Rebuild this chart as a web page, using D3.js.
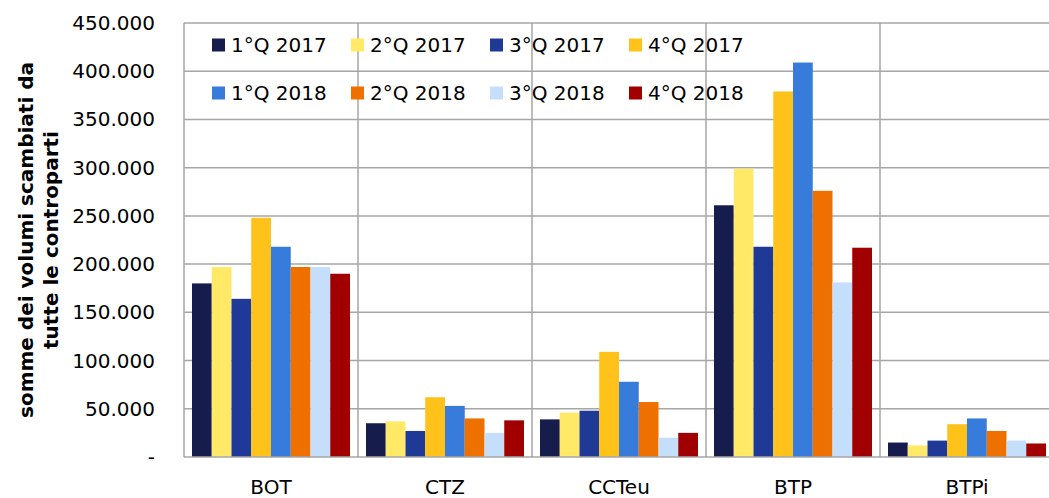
<!DOCTYPE html>
<html>
<head>
<meta charset="utf-8">
<script src="https://cdn.jsdelivr.net/npm/d3@7"></script>
<style>
  body { margin: 0; background: #fff; }
  svg { display: block; font-family: "DejaVu Sans", sans-serif; }
</style>
</head>
<body>
<svg id="chart" width="1049" height="498"></svg>
<script>
// categories and series
var categories = ["BOT", "CTZ", "CCTeu", "BTP", "BTPi"];
var series = ["1°Q 2017", "2°Q 2017", "3°Q 2017", "4°Q 2017",
              "1°Q 2018", "2°Q 2018", "3°Q 2018", "4°Q 2018"];
var colors = ["#161c4b", "#ffe966", "#1f3a96", "#ffc21a",
              "#377bdb", "#ee7100", "#c4defb", "#a00000"];

// values per series, in category order (BOT, CTZ, CCTeu, BTP, BTPi)
var q1_2017 = [180000, 35000, 39000, 261000, 15000];
var q2_2017 = [197000, 37000, 46000, 299000, 12000];
var q3_2017 = [164000, 27000, 48000, 218000, 17000];
var q4_2017 = [248000, 62000, 109000, 379000, 34000];
var q1_2018 = [218000, 53000, 78000, 409000, 40000];
var q2_2018 = [197000, 40000, 57000, 276000, 27000];
var q3_2018 = [197000, 25000, 20000, 181000, 17000];
var q4_2018 = [190000, 38000, 25000, 217000, 14000];
var values = [q1_2017, q2_2017, q3_2017, q4_2017, q1_2018, q2_2018, q3_2018, q4_2018];

var yTicks = d3.range(0, 450001, 50000);

var svg = d3.select("#chart");
// note: "top" is taken by window.top, so plot edges get their own names
var plotL = 184, plotR = 1054, plotT = 23, plotB = 457;
var gridColor = "#a6a6a6";

var x = d3.scaleBand().domain(categories).range([plotL, plotR]);
var xs = d3.scaleBand().domain(series).range([8, x.bandwidth() - 8]);
var y = d3.scaleLinear().domain([0, 450000]).range([plotB, plotT]);

var it = d3.formatLocale({ decimal: ",", thousands: ".", grouping: [3], currency: ["€", ""] });
var fmt = it.format(",.0f");

// horizontal grid
svg.append("g").selectAll("line").data(yTicks.slice(1)).join("line")
  .attr("x1", plotL).attr("x2", plotR)
  .attr("y1", d => y(d)).attr("y2", d => y(d))
  .attr("stroke", gridColor).attr("stroke-width", 1.5);

// category separators
svg.append("g").selectAll("line").data(categories.slice(1)).join("line")
  .attr("x1", d => x(d)).attr("x2", d => x(d))
  .attr("y1", plotT).attr("y2", plotB)
  .attr("stroke", gridColor).attr("stroke-width", 1.5);

// bars
var groups = svg.append("g").selectAll("g").data(series).join("g")
  .attr("fill", (d, i) => colors[i]);
groups.selectAll("rect")
  .data((s, i) => categories.map((c, j) => ({ c: c, s: s, v: values[i][j] })))
  .join("rect")
  .attr("x", d => x(d.c) + xs(d.s))
  .attr("width", xs.bandwidth())
  .attr("y", d => y(d.v))
  .attr("height", d => y(0) - y(d.v));

// axis lines
svg.append("line").attr("x1", plotL).attr("x2", plotL).attr("y1", plotT).attr("y2", plotB)
  .attr("stroke", gridColor).attr("stroke-width", 1.5);
svg.append("line").attr("x1", plotL).attr("x2", plotR).attr("y1", plotB).attr("y2", plotB)
  .attr("stroke", gridColor).attr("stroke-width", 1.5);

// y tick labels
svg.append("g").selectAll("text").data(yTicks).join("text")
  .attr("x", 155).attr("y", d => y(d)).attr("dy", "0.35em")
  .attr("text-anchor", "end").attr("font-size", 20)
  .text(d => d === 0 ? "-" : fmt(d));

// x labels
svg.append("g").selectAll("text").data(categories).join("text")
  .attr("x", d => x(d) + x.bandwidth() / 2).attr("y", 494)
  .attr("text-anchor", "middle").attr("font-size", 20)
  .text(d => d);

// y title
var title = svg.append("text")
  .attr("transform", "translate(0," + ((plotT + plotB) / 2) + ") rotate(-90)")
  .attr("text-anchor", "middle").attr("font-size", 20).attr("font-weight", "bold");
title.append("tspan").attr("x", 0).attr("y", 33).text("somme dei volumi scambiati da");
title.append("tspan").attr("x", 0).attr("y", 58).text("tutte le controparti");

// legend
var leg = svg.append("g").selectAll("g").data(series).join("g")
  .attr("transform", (d, i) => "translate(" + (212 + (i % 4) * 139) + "," + (45 + Math.floor(i / 4) * 48) + ")");
leg.append("rect").attr("x", 0).attr("y", -6.5).attr("width", 13).attr("height", 13)
  .attr("fill", (d, i) => colors[i]);
leg.append("text").attr("x", 19).attr("dy", "0.35em").attr("font-size", 20).text(d => d);
</script>
</body>
</html>
